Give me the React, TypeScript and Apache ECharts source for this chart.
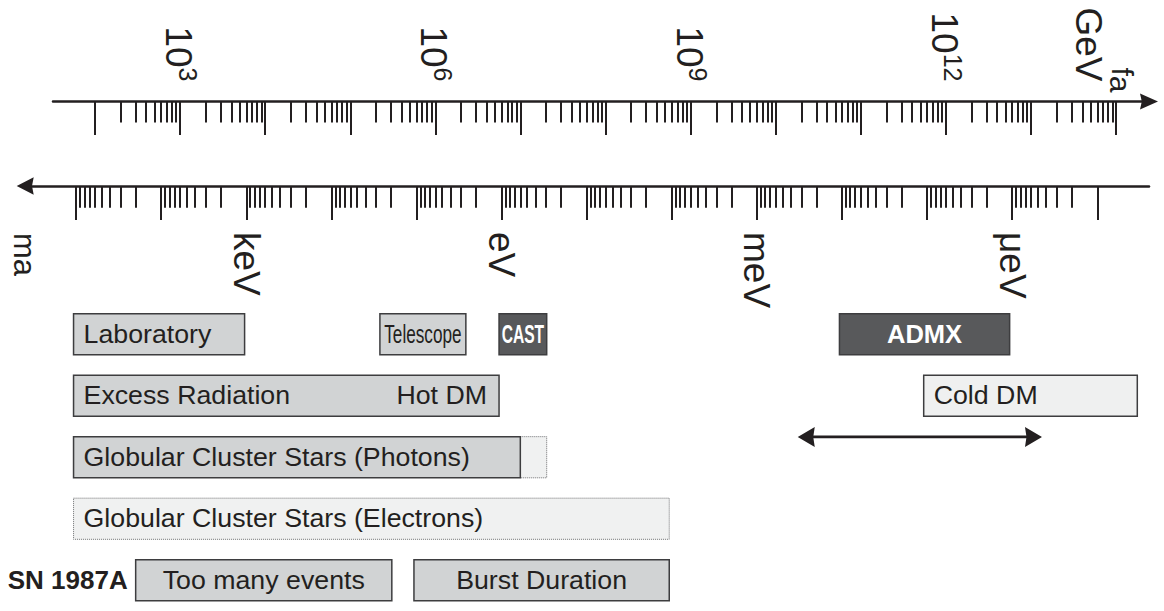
import React, { useEffect, useRef } from 'react';
import * as echarts from 'echarts';

/* ---------- the two scales ---------- */
// m_a = 6 μeV × (10^12 GeV / f_a), so log10(m_a/eV) + log10(f_a/GeV) is constant.
const FA_MA_SUM = 12 + Math.log10(6e-6);

/* ---------- ticks and labels ---------- */
const faDecades = [2, 3, 4, 5, 6, 7, 8, 9, 10, 11, 12, 13, 14];
const faLabelledDecades = [3, 6, 9, 12];
const faUnitDecade = 14;
const massDecades = [-7, -6, -5, -4, -3, -2, -1, 0, 1, 2, 3, 4, 5];
const massUnitDecades = [3, 0, -3, -6];
const massUnitNames = ['keV', 'eV', 'meV', 'μeV'];
const minorSteps = [2, 3, 4, 5, 6, 7, 8, 9];

/* ---------- bounds, edges in log10(m_a / eV) ---------- */
const boxText = [
  'Laboratory',
  'Telescope',
  'CAST',
  'ADMX',
  'Excess Radiation',
  'Cold DM',
  'Globular Cluster Stars (Photons)',
  '',
  'Globular Cluster Stars (Electrons)',
  'Too many events',
  'Burst Duration',
];
const boxNote = ['', '', '', '', 'Hot DM', '', '', '', '', '', ''];
const boxRow = [0, 0, 0, 0, 1, 1, 2, 2, 3, 4, 4];
const boxMassHigh = [5.03, 1.43, 0.03, -3.97, 5.03, -4.96, 5.03, -0.22, 5.03, 4.3, 1.03];
const boxMassLow = [3.02, 0.42, -0.53, -5.97, 0.03, -7.47, -0.22, -0.53, -1.97, 1.29, -1.97];
const boxStatus = [
  'excluded',
  'excluded',
  'search',
  'search',
  'excluded',
  'allowed',
  'excluded',
  'tentative',
  'tentative',
  'excluded',
  'excluded',
];

const rowTitleText = ['SN 1987A'];
const rowTitleRow = [4];

// preferred Cold DM window, drawn as a double arrow
const coldDmWindow = [-3.48, -6.35];
const coldDmWindowRow = 1.67;

/* ---------- layout ---------- */
const W = 1164;
const H = 611;
const DECADE_PX = 85.1;
const ONE_EV_PX = 501.6;
const massAtPx = (px: number) => (ONE_EV_PX - px) / DECADE_PX;
const faAtPx = (px: number) => FA_MA_SUM - massAtPx(px);

const FONT = '"Liberation Sans", Arial, Helvetica, sans-serif';
const INK = '#231f20';
const TEXT_SIZE = 25;
const TEXT_STRETCH = 1.07;
const BOX_FILL = 0.669;

const STATUS_LOOK: Record<string, any> = {
  excluded: { fill: '#d1d3d4', stroke: '#3d3d3f', lineWidth: 1.5, lineDash: null, text: INK, bold: false, z: 2 },
  search: { fill: '#58595b', stroke: '#3d3d3f', lineWidth: 1.5, lineDash: null, text: '#ffffff', bold: true, z: 2 },
  allowed: { fill: '#eff0f0', stroke: '#3d3d3f', lineWidth: 1.5, lineDash: null, text: INK, bold: false, z: 2 },
  tentative: { fill: '#f0f1f1', stroke: '#6d6e70', lineWidth: 1, lineDash: [1, 1], text: INK, bold: false, z: 1 },
};
const CENTERED = new Set(['Telescope', 'CAST', 'ADMX', 'Too many events', 'Burst Duration']);
const LABEL_SCALE: Record<string, number> = { Telescope: 0.66, CAST: 0.6, ADMX: 1.0 };
const LABEL_SIZE: Record<string, number> = { Telescope: 26, CAST: 26, ADMX: 25.5 };

const arrowPath = (w: number, h: number) =>
  `path://M${w / 2},0L${w},${h}L${w / 2},${h * 0.9}L0,${h}Z`;

const minorOf = (decades: number[]) => {
  const out: number[] = [];
  for (let i = 0; i < decades.length - 1; i++) {
    for (const k of minorSteps) out.push(decades[i] + Math.log10(k));
  }
  return out;
};

// rotated labels: the trailing padding keeps "10^n" and "GeV" clear of the axis,
// while the subscripted f_a reaches closer to it
const faRich = {
  n: { fontSize: 37, fontFamily: FONT, color: INK, lineHeight: 40, verticalAlign: 'bottom' },
  e: { fontSize: 25, fontFamily: FONT, color: INK, lineHeight: 26, padding: [0, 11, 14, 0], verticalAlign: 'top' },
  gap: { fontSize: 10, lineHeight: 21 },
  f: { fontSize: 30, fontFamily: FONT, color: INK, lineHeight: 34 },
  s: { fontSize: 30, fontFamily: FONT, color: INK, lineHeight: 14, verticalAlign: 'bottom' },
  u: { fontSize: 37, fontFamily: FONT, color: INK, lineHeight: 34, padding: [0, 11, 0, 0] },
};

function buildOption(): any {
  const boxData = boxText.map((_, i) => [boxMassHigh[i], boxMassLow[i], boxRow[i]]);
  const titleData = rowTitleRow.map((r) => {
    const edges = boxMassHigh.filter((_, i) => boxRow[i] === r);
    return [Math.max(...edges), r];
  });

  const tickAxis = (grid: number, pos: string, min: number, max: number, inverse: boolean) => ({
    gridIndex: grid,
    type: 'value',
    position: pos,
    min,
    max,
    inverse,
    splitLine: { show: false },
  });

  return {
    animation: false,
    backgroundColor: '#ffffff',
    grid: [
      { left: 0, right: 0, top: 303.45, height: 319 },
      { left: 53, right: W - 1149, top: 101.5, height: 40 },
      { left: 25.2, right: W - 1149, top: 146, height: 40 },
    ],
    xAxis: [
      { gridIndex: 0, type: 'value', inverse: true, min: massAtPx(W), max: massAtPx(0), show: false },
      // f_a: decades with labels
      {
        ...tickAxis(1, 'top', faAtPx(53), faAtPx(1149), false),
        axisLine: {
          show: true,
          onZero: false,
          symbol: ['none', arrowPath(16, 18)],
          symbolSize: [16, 18],
          lineStyle: { color: INK, width: 2.5 },
        },
        axisTick: { show: true, inside: true, length: 33.5, customValues: faDecades, lineStyle: { color: INK, width: 2 } },
        axisLabel: {
          show: true,
          customValues: [...faLabelledDecades, faUnitDecade],
          rotate: 90,
          margin: 9,
          color: INK,
          fontFamily: FONT,
          fontSize: 37,
          formatter: (v: number) =>
            v === faUnitDecade ? '{gap| }\n{f|f}{s|a}\n{u|GeV}' : `{n|10}{e|${v}}`,
          rich: faRich,
        },
      },
      // f_a: 2..9 within each decade
      {
        ...tickAxis(1, 'top', faAtPx(53), faAtPx(1149), false),
        axisLine: { show: false, onZero: false },
        axisTick: { show: true, inside: true, length: 21, customValues: minorOf(faDecades), lineStyle: { color: INK, width: 2 } },
        axisLabel: { show: false },
      },
      // m_a: decades with unit names, mass grows to the left
      {
        ...tickAxis(2, 'bottom', massAtPx(1149), massAtPx(25.2), true),
        axisLine: {
          show: true,
          onZero: false,
          symbol: [arrowPath(17.6, 17), 'none'],
          symbolSize: [17.6, 17],
          lineStyle: { color: INK, width: 2.5 },
        },
        axisTick: { show: true, inside: false, length: 34, customValues: massDecades, lineStyle: { color: INK, width: 2 } },
        axisLabel: {
          show: true,
          customValues: massUnitDecades,
          rotate: -90,
          margin: 46,
          color: INK,
          fontFamily: FONT,
          fontSize: 37,
          formatter: (v: number) => massUnitNames[massUnitDecades.indexOf(Math.round(v))] ?? '',
        },
      },
      {
        ...tickAxis(2, 'bottom', massAtPx(1149), massAtPx(25.2), true),
        axisLine: { show: false, onZero: false },
        axisTick: { show: true, inside: false, length: 21.7, customValues: minorOf(massDecades), lineStyle: { color: INK, width: 2 } },
        axisLabel: { show: false },
      },
    ],
    yAxis: [
      { gridIndex: 0, type: 'value', min: -0.5, max: 4.5, inverse: true, show: false },
      { gridIndex: 1, type: 'value', min: 0, max: 1, show: false },
      { gridIndex: 2, type: 'value', min: 0, max: 1, show: false },
    ],
    series: [
      {
        type: 'custom',
        name: 'bounds',
        xAxisIndex: 0,
        yAxisIndex: 0,
        data: boxData,
        renderItem: (params: any, api: any) => {
          const i = params.dataIndex;
          const p = api.coord([api.value(0), api.value(2)]);
          const q = api.coord([api.value(1), api.value(2)]);
          const h = api.size([0, 1])[1] * BOX_FILL;
          const x0 = Math.min(p[0], q[0]);
          const x1 = Math.max(p[0], q[0]);
          const cy = p[1];
          const look = STATUS_LOOK[boxStatus[i]];
          const children: any[] = [
            {
              type: 'rect',
              z2: look.z,
              shape: { x: x0, y: cy - h / 2, width: x1 - x0, height: h },
              style: {
                fill: look.fill,
                stroke: look.stroke,
                lineWidth: look.lineWidth,
                lineDash: look.lineDash,
              },
            },
          ];
          const text = boxText[i];
          if (text) {
            const centered = CENTERED.has(text);
            children.push({
              type: 'text',
              z2: 5,
              x: centered ? (x0 + x1) / 2 : x0 + 10,
              y: cy,
              scaleX: LABEL_SCALE[text] ?? TEXT_STRETCH,
              style: {
                text,
                fill: look.text,
                fontFamily: FONT,
                fontSize: LABEL_SIZE[text] ?? TEXT_SIZE,
                fontWeight: look.bold ? 'bold' : 'normal',
                align: centered ? 'center' : 'left',
                verticalAlign: 'middle',
              },
            });
          }
          if (boxNote[i]) {
            children.push({
              type: 'text',
              z2: 5,
              x: x1 - 12,
              y: cy,
              scaleX: TEXT_STRETCH,
              style: {
                text: boxNote[i],
                fill: look.text,
                fontFamily: FONT,
                fontSize: TEXT_SIZE,
                align: 'right',
                verticalAlign: 'middle',
              },
            });
          }
          return { type: 'group', children };
        },
      },
      {
        type: 'custom',
        name: 'row titles',
        xAxisIndex: 0,
        yAxisIndex: 0,
        data: titleData,
        renderItem: (params: any, api: any) => {
          const p = api.coord([api.value(0), api.value(1)]);
          return {
            type: 'text',
            x: p[0] - 8,
            y: p[1],
            scaleX: 1.04,
            style: {
              text: rowTitleText[params.dataIndex],
              fill: INK,
              fontFamily: FONT,
              fontSize: 25,
              fontWeight: 'bold',
              align: 'right',
              verticalAlign: 'middle',
            },
          };
        },
      },
      {
        type: 'custom',
        name: 'Cold DM window',
        xAxisIndex: 0,
        yAxisIndex: 0,
        data: [[coldDmWindow[0], coldDmWindow[1], coldDmWindowRow]],
        renderItem: (_params: any, api: any) => {
          const a = api.coord([api.value(0), api.value(2)]);
          const b = api.coord([api.value(1), api.value(2)]);
          const l = Math.min(a[0], b[0]);
          const r = Math.max(a[0], b[0]);
          const y = a[1];
          const len = 17;
          const half = 10;
          return {
            type: 'group',
            children: [
              {
                type: 'line',
                shape: { x1: l + 10, y1: y, x2: r - 10, y2: y },
                style: { stroke: INK, lineWidth: 2.7 },
              },
              {
                type: 'polygon',
                shape: { points: [[l, y], [l + len, y - half], [l + len - 1.5, y], [l + len, y + half]] },
                style: { fill: INK },
              },
              {
                type: 'polygon',
                shape: { points: [[r, y], [r - len, y - half], [r - len + 1.5, y], [r - len, y + half]] },
                style: { fill: INK },
              },
            ],
          };
        },
      },
    ],
    graphic: [
      {
        type: 'text',
        x: 24,
        y: 233,
        rotation: -Math.PI / 2,
        style: {
          text: '{m|m}{s|a}',
          align: 'left',
          verticalAlign: 'middle',
          rich: {
            m: { fontSize: 31, fontFamily: FONT, fill: INK, lineHeight: 30 },
            s: { fontSize: 31, fontFamily: FONT, fill: INK, lineHeight: 19, verticalAlign: 'bottom' },
          },
        },
      },
    ],
  };
}

export default function App() {
  const ref = useRef<HTMLDivElement>(null);
  useEffect(() => {
    if (!ref.current) return;
    const chart = echarts.init(ref.current, null, { renderer: 'svg' });
    chart.setOption(buildOption());
    return () => chart.dispose();
  }, []);
  return (
    <div
      ref={ref}
      style={{ position: 'fixed', left: 0, top: 0, width: W, height: H, background: '#ffffff' }}
    />
  );
}
